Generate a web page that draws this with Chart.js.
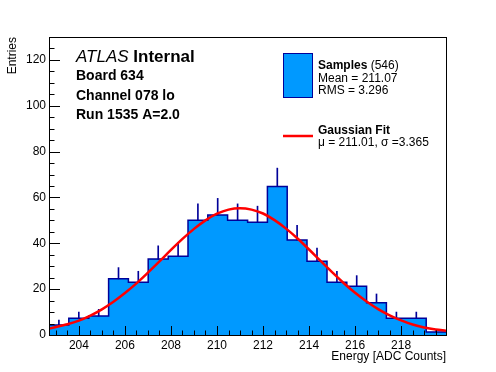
<!DOCTYPE html>
<html>
<head>
<meta charset="utf-8">
<script src="https://cdn.jsdelivr.net/npm/chart.js@4/dist/chart.umd.min.js"></script>
<style>
    html, body { margin: 0; padding: 0; background: #fff; }
</style>
</head>
<body>
<canvas id="energy-chart" width="496" height="372"></canvas>
<script>
const binEdges = [202.70, 203.56, 204.43, 205.29, 206.15, 207.01, 207.88, 208.74, 209.60, 210.46, 211.33,
    212.19, 213.05, 213.91, 214.78, 215.64, 216.50, 217.36, 218.23, 219.09, 219.95];
const sampleCounts = [4.4, 7.3, 8.3, 24.5, 23.0, 33.1, 34.4, 50.1, 52.4, 50.1,
    49.2, 64.8, 41.4, 32.2, 23.0, 21.3, 14.1, 7.3, 7.3, 1.3];
const sampleErrors = [2.1, 2.7, 2.9, 4.9, 4.8, 5.8, 5.9, 7.1, 7.2, 7.1,
    7.0, 8.0, 6.4, 5.7, 4.8, 4.6, 3.8, 2.7, 2.7, 1.1];

const fitX = [202.7, 203.5, 204, 204.5, 205, 205.5, 206, 206.5, 207, 207.5, 208, 208.5, 209, 209.5, 210, 210.5,
    211, 211.5, 212, 212.5, 213, 213.5, 214, 214.5, 215, 215.5, 216, 216.5, 217, 217.5, 218, 218.5, 219, 219.5, 219.95];
const fitY = [2.8, 4.7, 6.3, 8.5, 11.2, 14.5, 18.3, 22.5, 27.2, 32.1, 37.1, 41.9, 46.3, 50.0, 52.9, 54.7,
    55.3, 54.7, 53.0, 50.1, 46.4, 42.1, 37.3, 32.3, 27.4, 22.7, 18.4, 14.6, 11.3, 8.6, 6.4, 4.6, 3.3, 2.4, 1.9];

const xTickLabels = [204, 206, 208, 210, 212, 214, 216, 218];
const yTickLabels = [0, 20, 40, 60, 80, 100, 120];

const xRange = [202.7, 219.95];
const yRange = [0, 130];

const FONT = "'Liberation Sans', Arial, Helvetica, sans-serif";
const FILL_BLUE = "#0099ff";
const LINE_NAVY = "#000099";

function histogramPoints() {
    return binEdges.map((edge, i) => ({
        x: edge,
        y: sampleCounts[Math.min(i, sampleCounts.length - 1)],
    }));
}

function errorBarPoints() {
    return sampleCounts.map((count, i) => ({
        x: (binEdges[i] + binEdges[i + 1]) / 2,
        y: [count, count + sampleErrors[i]],
    }));
}

// ROOT style frame, ticks pointing inside, titles and legend text
const rootDecor = {
    id: "rootDecor",
    afterDatasetsDraw(chart) {
        const { ctx, chartArea: area, scales } = chart;
        const xs = scales.x;
        const ys = scales.y;

        ctx.save();
        ctx.strokeStyle = "#000";
        ctx.lineWidth = 1;
        ctx.beginPath();

        for (let v = 203; v <= 219.5; v += 0.5) {
            const px = Math.round(xs.getPixelForValue(v)) + 0.5;
            const len = v % 2 === 0 ? 9 : 4.5;
            ctx.moveTo(px, area.bottom);
            ctx.lineTo(px, area.bottom - len);
        }

        for (let v = 0; v <= 130; v += 5) {
            const py = Math.round(ys.getPixelForValue(v)) + 0.5;
            const len = v % 20 === 0 ? 11 : 5.5;
            ctx.moveTo(area.left, py);
            ctx.lineTo(area.left + len, py);
        }

        ctx.stroke();
        ctx.strokeRect(Math.round(area.left) + 0.5, Math.round(area.top) + 0.5,
            Math.round(area.right - area.left), Math.round(area.bottom - area.top));

        ctx.fillStyle = "#000";
        ctx.textBaseline = "alphabetic";

        // axis titles
        ctx.font = `12px ${FONT}`;
        ctx.textAlign = "right";
        ctx.fillText("Energy [ADC Counts]", area.right, 360);
        ctx.save();
        ctx.translate(16, area.top);
        ctx.rotate(-Math.PI / 2);
        ctx.fillText("Entries", 0, 0);
        ctx.restore();

        // label block
        ctx.textAlign = "left";
        ctx.font = `italic 17px ${FONT}`;
        ctx.fillText("ATLAS", 76, 62);
        const atlasWidth = ctx.measureText("ATLAS ").width;
        ctx.font = `bold 17px ${FONT}`;
        ctx.fillText("Internal", 76 + atlasWidth, 62);
        ctx.font = `bold 14px ${FONT}`;
        ctx.fillText("Board 634", 76, 80);
        ctx.fillText("Channel 078 lo", 76, 99.5);
        ctx.fillText("Run 1535 A=2.0", 76, 119);

        // legend
        ctx.fillStyle = FILL_BLUE;
        ctx.fillRect(283, 53, 29, 44);
        ctx.strokeStyle = LINE_NAVY;
        ctx.strokeRect(283.5, 53.5, 29, 44);
        ctx.strokeStyle = "#ff0000";
        ctx.lineWidth = 2.5;
        ctx.beginPath();
        ctx.moveTo(283, 136);
        ctx.lineTo(313, 136);
        ctx.stroke();

        ctx.fillStyle = "#000";
        ctx.font = `bold 12px ${FONT}`;
        ctx.fillText("Samples", 318, 69);
        const samplesWidth = ctx.measureText("Samples ").width;
        ctx.font = `12px ${FONT}`;
        ctx.fillText("(546)", 318 + samplesWidth, 69);
        ctx.fillText("Mean = 211.07", 318, 81.5);
        ctx.fillText("RMS = 3.296", 318, 94);
        ctx.font = `bold 12px ${FONT}`;
        ctx.fillText("Gaussian Fit", 318, 133.5);
        ctx.font = `12px ${FONT}`;
        ctx.fillText("\u03bc = 211.01, \u03c3 =3.365", 318, 146);

        ctx.restore();
    },
};

function initEnergyChart() {
    const canvas = document.getElementById("energy-chart");

    new Chart(canvas, {
        type: "line",
        data: {
            datasets: [
                {
                    label: "Gaussian Fit",
                    data: fitX.map((x, i) => ({ x, y: fitY[i] })),
                    borderColor: "#ff0000",
                    borderWidth: 2.5,
                    pointRadius: 0,
                    cubicInterpolationMode: "monotone",
                    fill: false,
                    order: 0,
                },
                {
                    type: "bar",
                    label: "Errors",
                    data: errorBarPoints(),
                    backgroundColor: LINE_NAVY,
                    borderWidth: 0,
                    barThickness: 1,
                    grouped: false,
                    order: 1,
                },
                {
                    label: "Samples",
                    data: histogramPoints(),
                    stepped: true,
                    borderColor: LINE_NAVY,
                    borderWidth: 1.5,
                    backgroundColor: FILL_BLUE,
                    fill: "origin",
                    pointRadius: 0,
                    order: 2,
                },
            ],
        },
        options: {
            responsive: false,
            animation: false,
            devicePixelRatio: 1,
            layout: {
                padding: { left: 0, top: 37, right: 50, bottom: 0 },
            },
            plugins: {
                legend: { display: false },
                tooltip: { enabled: false },
            },
            scales: {
                x: {
                    type: "linear",
                    min: xRange[0],
                    max: xRange[1],
                    offset: false,
                    grid: { display: false, drawTicks: false },
                    border: { display: false },
                    afterBuildTicks(scale) {
                        scale.ticks = xTickLabels.map((value) => ({ value }));
                    },
                    afterFit(scale) {
                        scale.height = 37;
                    },
                    ticks: {
                        color: "#000",
                        padding: 3,
                        maxRotation: 0,
                        font: { family: FONT, size: 12 },
                    },
                },
                y: {
                    min: yRange[0],
                    max: yRange[1],
                    grid: { display: false, drawTicks: false },
                    border: { display: false },
                    afterBuildTicks(scale) {
                        scale.ticks = yTickLabels.map((value) => ({ value }));
                    },
                    afterFit(scale) {
                        scale.width = 49;
                    },
                    ticks: {
                        color: "#000",
                        padding: 3,
                        font: { family: FONT, size: 12 },
                    },
                },
            },
        },
        plugins: [rootDecor],
    });
}

initEnergyChart();
</script>
</body>
</html>
